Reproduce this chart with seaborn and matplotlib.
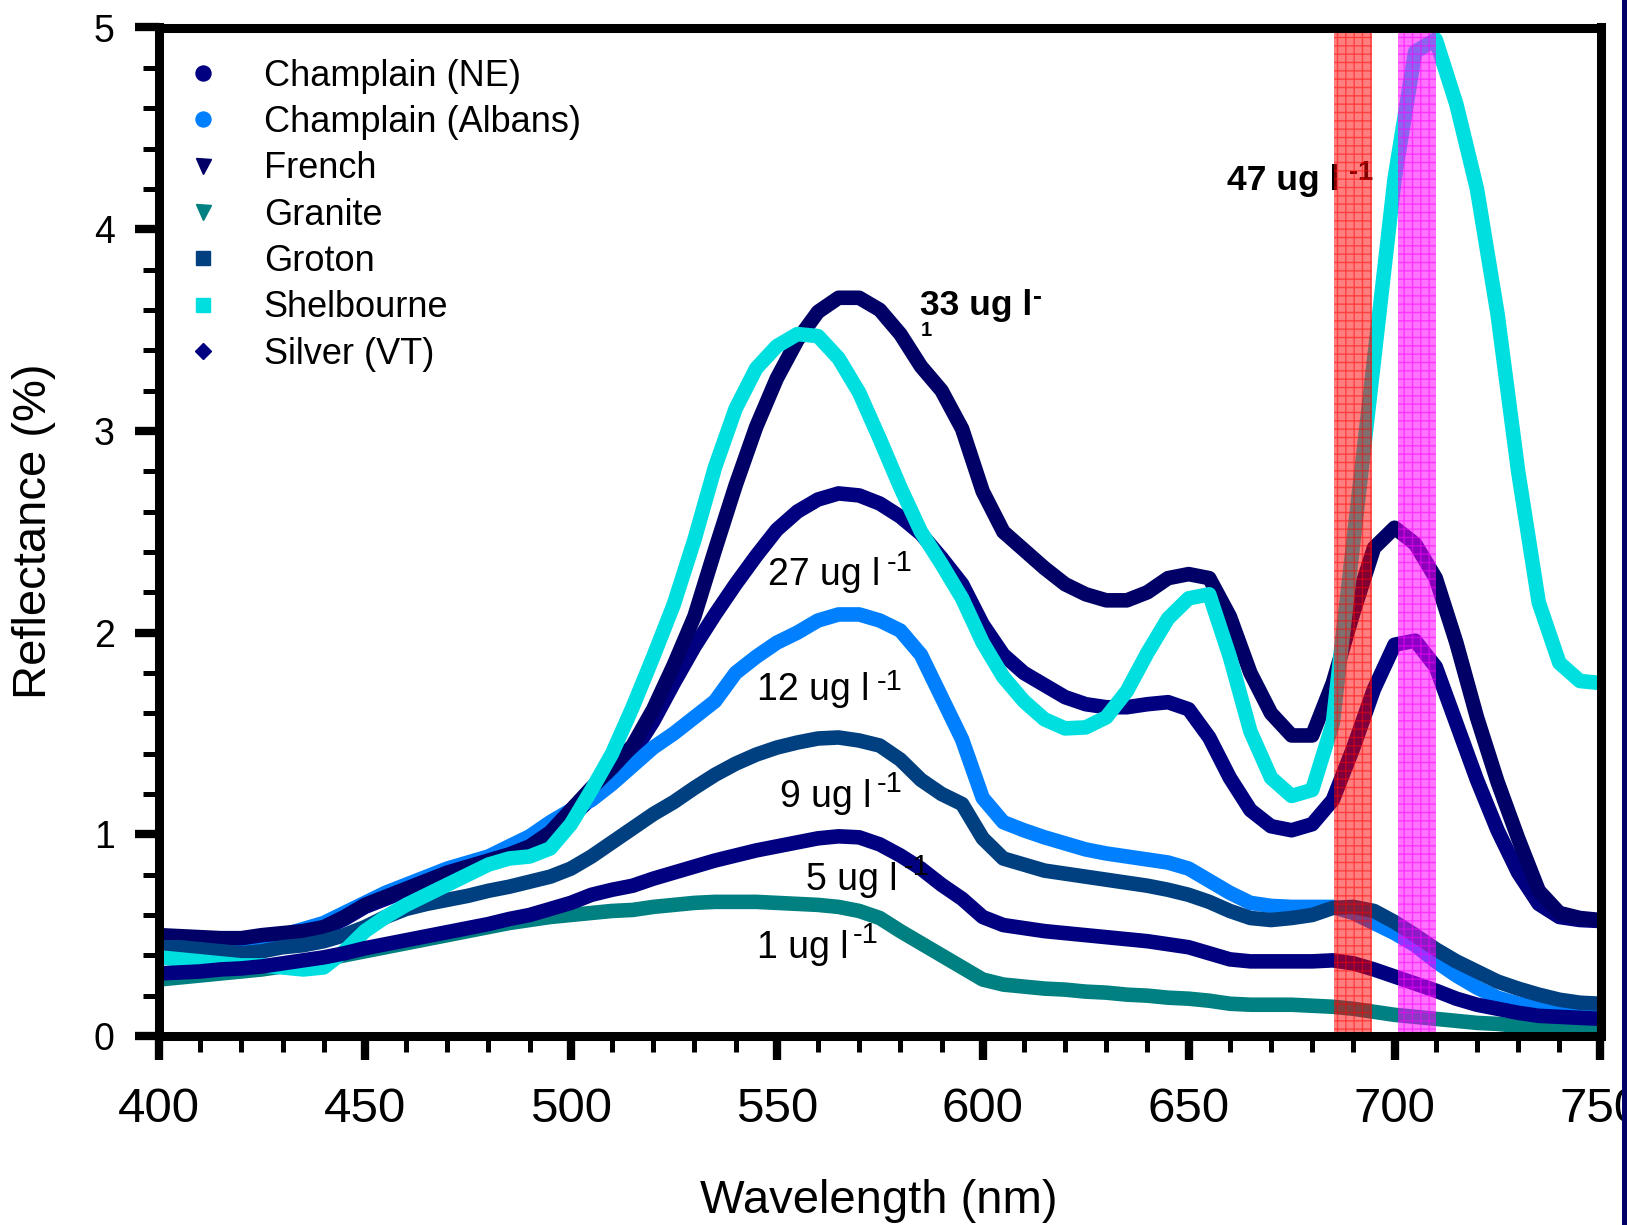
import matplotlib
matplotlib.use("Agg")
import matplotlib.pyplot as plt
import seaborn as sns
import pandas as pd
from matplotlib.lines import Line2D
from matplotlib.patches import Rectangle
from matplotlib.ticker import MultipleLocator

# Wavelength grid (nm)
wavelength = list(range(400, 755, 5))

# Reflectance (%) per lake
champlain_ne = [0.48, 0.475, 0.47, 0.47, 0.475, 0.49, 0.50, 0.51, 0.53, 0.58,
                0.64, 0.68, 0.72, 0.76, 0.80, 0.83, 0.86, 0.89, 0.93, 0.99,
                1.08, 1.18, 1.28, 1.40, 1.56, 1.75, 1.93, 2.09, 2.24, 2.38,
                2.51, 2.60, 2.66, 2.69, 2.68, 2.64, 2.575, 2.49, 2.37, 2.24,
                2.04, 1.89, 1.80, 1.74, 1.68, 1.645, 1.63, 1.63, 1.645, 1.655,
                1.62, 1.48, 1.28, 1.12, 1.04, 1.02, 1.05, 1.17, 1.43, 1.72,
                1.94, 1.96, 1.83, 1.55, 1.27, 1.02, 0.81, 0.655, 0.59, 0.575,
                0.57]
champlain_albans = [0.47, 0.46, 0.46, 0.45, 0.46, 0.48, 0.50, 0.53, 0.56, 0.61,
                    0.66, 0.71, 0.75, 0.79, 0.83, 0.86, 0.89, 0.94, 0.99, 1.06,
                    1.12, 1.17, 1.25, 1.34, 1.43, 1.50, 1.58, 1.66, 1.80, 1.88,
                    1.95, 2.00, 2.06, 2.09, 2.09, 2.06, 2.01, 1.89, 1.68, 1.47,
                    1.18, 1.06, 1.02, 0.985, 0.955, 0.925, 0.905, 0.89, 0.875, 0.86,
                    0.83, 0.77, 0.71, 0.66, 0.645, 0.64, 0.64, 0.64, 0.61, 0.56,
                    0.51, 0.45, 0.37, 0.30, 0.24, 0.19, 0.16, 0.14, 0.13, 0.12,
                    0.12]
french = [0.50, 0.495, 0.49, 0.485, 0.485, 0.50, 0.51, 0.52, 0.54, 0.59,
          0.65, 0.69, 0.73, 0.77, 0.81, 0.84, 0.87, 0.90, 0.94, 1.01,
          1.12, 1.23, 1.33, 1.44, 1.62, 1.84, 2.08, 2.41, 2.73, 3.02,
          3.26, 3.45, 3.59, 3.66, 3.66, 3.60, 3.48, 3.32, 3.20, 3.01,
          2.70, 2.50, 2.41, 2.32, 2.24, 2.19, 2.16, 2.16, 2.20, 2.27,
          2.29, 2.27, 2.08, 1.80, 1.60, 1.49, 1.49, 1.75, 2.10, 2.42,
          2.52, 2.44, 2.27, 1.95, 1.58, 1.26, 0.98, 0.72, 0.61, 0.585,
          0.575]
granite = [0.28, 0.29, 0.30, 0.31, 0.32, 0.33, 0.345, 0.36, 0.38, 0.40,
           0.42, 0.44, 0.46, 0.48, 0.50, 0.52, 0.54, 0.56, 0.575, 0.59,
           0.60, 0.61, 0.62, 0.625, 0.64, 0.65, 0.66, 0.665, 0.665, 0.665,
           0.66, 0.655, 0.65, 0.64, 0.62, 0.585, 0.52, 0.46, 0.40, 0.34,
           0.28, 0.255, 0.245, 0.235, 0.23, 0.22, 0.215, 0.205, 0.20, 0.19,
           0.185, 0.175, 0.16, 0.155, 0.155, 0.155, 0.15, 0.145, 0.135, 0.12,
           0.105, 0.095, 0.085, 0.075, 0.065, 0.06, 0.05, 0.045, 0.04, 0.035,
           0.03]
groton = [0.44, 0.44, 0.43, 0.42, 0.41, 0.42, 0.44, 0.45, 0.47, 0.50,
          0.54, 0.59, 0.63, 0.655, 0.675, 0.695, 0.72, 0.74, 0.765, 0.79,
          0.83, 0.89, 0.96, 1.03, 1.10, 1.16, 1.23, 1.295, 1.35, 1.395,
          1.43, 1.455, 1.475, 1.48, 1.465, 1.44, 1.37, 1.27, 1.20, 1.15,
          0.98, 0.88, 0.85, 0.82, 0.805, 0.79, 0.775, 0.76, 0.745, 0.725,
          0.70, 0.665, 0.62, 0.585, 0.575, 0.585, 0.60, 0.635, 0.64, 0.62,
          0.565, 0.50, 0.43, 0.37, 0.32, 0.27, 0.235, 0.205, 0.18, 0.165,
          0.16]
shelbourne = [0.39, 0.38, 0.37, 0.36, 0.35, 0.35, 0.34, 0.33, 0.34, 0.42,
              0.52, 0.59, 0.65, 0.70, 0.75, 0.80, 0.85, 0.88, 0.89, 0.93,
              1.05, 1.22, 1.40, 1.63, 1.88, 2.14, 2.46, 2.82, 3.11, 3.31,
              3.42, 3.48, 3.47, 3.36, 3.19, 2.96, 2.72, 2.50, 2.34, 2.17,
              1.95, 1.78, 1.66, 1.57, 1.525, 1.53, 1.58, 1.71, 1.90, 2.07,
              2.17, 2.19, 1.88, 1.51, 1.28, 1.19, 1.22, 1.55, 2.45, 3.35,
              4.25, 4.88, 4.94, 4.62, 4.20, 3.58, 2.80, 2.15, 1.85, 1.76,
              1.75]
silver_vt = [0.31, 0.315, 0.32, 0.33, 0.335, 0.345, 0.36, 0.375, 0.39, 0.41,
             0.435, 0.455, 0.475, 0.495, 0.515, 0.535, 0.555, 0.58, 0.60, 0.63,
             0.66, 0.70, 0.725, 0.745, 0.78, 0.81, 0.84, 0.87, 0.895, 0.92,
             0.94, 0.96, 0.98, 0.99, 0.985, 0.95, 0.895, 0.83, 0.75, 0.68,
             0.59, 0.55, 0.535, 0.52, 0.51, 0.50, 0.49, 0.48, 0.47, 0.455,
             0.44, 0.41, 0.38, 0.37, 0.37, 0.37, 0.37, 0.375, 0.36, 0.33,
             0.295, 0.26, 0.225, 0.185, 0.155, 0.135, 0.115, 0.10, 0.095, 0.09,
             0.085]

lakes = ["Champlain (NE)", "Champlain (Albans)", "French", "Granite",
         "Groton", "Shelbourne", "Silver (VT)"]
series = [champlain_ne, champlain_albans, french, granite,
          groton, shelbourne, silver_vt]
colors = ["#000080", "#0080FF", "#000066", "#008080",
          "#004080", "#00DFDF", "#000080"]
markers = ["o", "o", "v", "v", "s", "s", "D"]
marker_sizes = [10.8, 10.8, 10.8, 10.8, 9.4, 9.4, 8.0]

# Chlorophyll labels: text, x, y, superscript x, superscript y
chl_labels = ["27 ug l", "12 ug l", "9 ug l", "5 ug l", "1 ug l"]
chl_x = [547.9, 545.3, 550.8, 557.2, 545.3]
chl_y = [2.236, 1.666, 1.137, 0.724, 0.387]
chl_sup_x = [576.6, 574.2, 574.2, 580.8, 568.5]
chl_sup_y = [2.306, 1.717, 1.211, 0.800, 0.459]

df = pd.DataFrame({
    "Wavelength": wavelength * len(lakes),
    "Reflectance": [v for s in series for v in s],
    "Lake": [lake for lake in lakes for _ in wavelength],
})

sns.set_theme(style="white")
plt.rcParams["font.family"] = ["Liberation Sans", "DejaVu Sans"]
plt.rcParams["hatch.linewidth"] = 1.0
for key in ["text.color", "axes.labelcolor", "xtick.color", "ytick.color",
            "xtick.labelcolor", "ytick.labelcolor"]:
    plt.rcParams[key] = "black"

W, H = 1627, 1225
fig = plt.figure(figsize=(W / 100, H / 100), dpi=100)
fig.patch.set_facecolor("white")
ax = fig.add_axes([159 / W, 1 - 1036 / H, (1600.5 - 159) / W, (1036 - 27.5) / H])

sns.lineplot(data=df, x="Wavelength", y="Reflectance", hue="Lake",
             hue_order=lakes, palette=colors, linewidth=10.5, legend=False,
             estimator=None, sort=False, ax=ax, zorder=2,
             solid_capstyle="round", solid_joinstyle="round")

ax.set_xlim(400, 750)
ax.set_ylim(0, 5)
ax.xaxis.set_major_locator(MultipleLocator(50))
ax.xaxis.set_minor_locator(MultipleLocator(10))
ax.yaxis.set_major_locator(MultipleLocator(1))
ax.yaxis.set_minor_locator(MultipleLocator(0.2))
ax.tick_params(which="major", direction="out", length=17, width=6,
               color="black", bottom=True, left=True, top=False, right=False)
ax.tick_params(which="minor", direction="out", length=11.5, width=3.6,
               color="black", bottom=True, left=True, top=False, right=False)
ax.tick_params(axis="x", which="major", labelsize=35.5, pad=20,
               labelcolor="black")
ax.tick_params(axis="y", which="major", labelsize=27, pad=15,
               labelcolor="black")
for sp in ax.spines.values():
    sp.set_visible(True)
    sp.set_color("black")
    sp.set_linewidth(6.5)
    sp.set_zorder(10)

ax.set_xlabel("Wavelength (nm)", fontsize=34, color="black")
ax.set_ylabel("Reflectance (%)", fontsize=34, color="black")
ax.xaxis.set_label_coords(879 / W, 1 - 1201 / H, transform=fig.transFigure)
ax.xaxis.label.set_va("center")
ax.yaxis.set_label_coords(34 / W, 1 - 531 / H, transform=fig.transFigure)
ax.yaxis.label.set_va("center")

# Absorption / fluorescence bands
ax.axvspan(685.4, 694.4, facecolor="#FF0000", edgecolor="#FF0000",
           hatch="++", alpha=0.5, linewidth=0, zorder=5)
ax.axvspan(700.8, 710.0, facecolor="#FF00FF", edgecolor="#FF00FF",
           hatch="++", alpha=0.55, linewidth=0, zorder=5)

# Chlorophyll concentration labels
for t, x, y, sx, sy in zip(chl_labels, chl_x, chl_y, chl_sup_x, chl_sup_y):
    ax.text(x, y, t, fontsize=27, ha="left", va="baseline", zorder=3,
            color="black")
    ax.text(sx, sy, "-1", fontsize=21, ha="left", va="baseline", zorder=3,
            color="black")

ax.text(584.8, 3.575, "33 ug l", fontsize=25.5, fontweight="bold",
        ha="left", va="baseline", zorder=3, color="black")
ax.text(612.3, 3.624, "-", fontsize=19.5, fontweight="bold",
        ha="left", va="baseline", zorder=3, color="black")
ax.text(584.9, 3.470, "1", fontsize=14.5, fontweight="bold",
        ha="left", va="baseline", zorder=3, color="black")

ax.text(659.4, 4.194, "47 ug l", fontsize=25.5, fontweight="bold",
        ha="left", va="baseline", zorder=3, color="black")
ax.text(689.0, 4.245, "-1", fontsize=19.5, fontweight="bold",
        ha="left", va="baseline", zorder=3, color="black")

handles = [Line2D([], [], linestyle="none", marker=m, color=c,
                  markeredgecolor=c, markersize=ms)
           for m, c, ms in zip(markers, colors, marker_sizes)]
ax.legend(handles, lakes, loc="upper left",
          bbox_to_anchor=(185.3 / W, 1 - 58.5 / H),
          bbox_transform=fig.transFigure, frameon=False, fontsize=26,
          borderpad=0, borderaxespad=0, handlelength=1.0,
          handletextpad=1.17, labelspacing=0.315, labelcolor="black")

# Navy strip along the right edge of the slide
fig.patches.append(Rectangle((1622 / W, 0), 1 - 1622 / W, 1,
                             transform=fig.transFigure, facecolor="#000066",
                             edgecolor="none", zorder=20))

fig.savefig("out.png", dpi=100)
